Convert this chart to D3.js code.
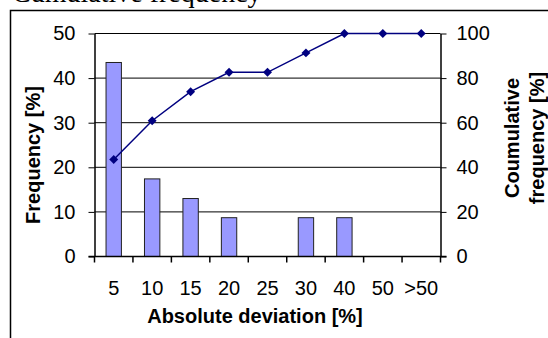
<!DOCTYPE html>
<html>
<head>
<meta charset="utf-8">
<script src="https://cdn.jsdelivr.net/npm/d3@7"></script>
<style>
body { margin: 0; background: #fff; }
svg { display: block; }
text { font-family: Arial, "Liberation Sans", sans-serif; fill: #000; }
</style>
</head>
<body>
<svg id="chart" width="548" height="338"></svg>
<script>
var categories = ["5", "10", "15", "20", "25", "30", "40", "50", ">50"]
var frequency = [43.5, 17.4, 13.0, 8.7, 0, 8.7, 8.7, 0, 0]
var cumulative = [43.5, 60.9, 73.9, 82.6, 82.6, 91.3, 100, 100, 100]
var leftTicks = [0, 10, 20, 30, 40, 50]
var rightTicks = [0, 20, 40, 60, 80, 100]

var svg = d3.select('svg#chart')
var pLeft = 94.5, pRight = 440.5, pTop = 33.5, pBottom = 256.5
var fs = '20px'

// clipped caption above the chart frame
svg.append('text')
	.attr('x', 12).attr('y', 2)
	.style('font-family', '"Liberation Serif", "Times New Roman", serif')
	.style('font-size', '28px')
	.text('Cumulative frequency')

// frame
svg.append('path')
	.attr('d', 'M10.5,338 V10.5 H548')
	.style('fill', 'none').style('stroke', '#000').style('stroke-width', 1.5)

var x = d3.scaleBand().domain(categories).range([pLeft, pRight])
var xBar = d3.scaleBand().domain(categories).range([pLeft, pRight]).paddingInner(0.6).paddingOuter(0.3)
var yL = d3.scaleLinear().domain([0, 50]).range([pBottom, pTop])
var yR = d3.scaleLinear().domain([0, 100]).range([pBottom, pTop])

// gridlines
svg.append('g').selectAll('line')
	.data(leftTicks.filter(function(d){return d > 0}))
	.enter().append('line')
	.attr('x1', pLeft).attr('x2', pRight)
	.attr('y1', function(d){return yL(d)}).attr('y2', function(d){return yL(d)})
	.style('stroke', '#000').style('stroke-width', 1)

// bars
svg.append('g').selectAll('rect')
	.data(frequency)
	.enter().append('rect')
	.attr('x', function(d, i){return xBar(categories[i])})
	.attr('width', xBar.bandwidth())
	.attr('y', function(d){return yL(d)})
	.attr('height', function(d){return pBottom - yL(d)})
	.style('fill', function(d){return d > 0 ? '#9999ff' : 'none'})
	.style('stroke', function(d){return d > 0 ? '#222' : 'none'})
	.style('stroke-width', 1)

// axes
var gl = svg.append('g').attr('transform', 'translate(' + pLeft + ',0)')
	.call(d3.axisLeft(yL).tickValues(leftTicks).tickSize(6).tickPadding(13).tickSizeOuter(0))
var gr = svg.append('g').attr('transform', 'translate(' + pRight + ',0)')
	.call(d3.axisRight(yR).tickValues(rightTicks).tickSize(6).tickPadding(10).tickSizeOuter(0))
;[gl, gr].forEach(function(g){
	g.select('.domain').style('stroke', '#000').style('stroke-width', 1.5)
	g.selectAll('.tick line').style('stroke', '#000').style('stroke-width', 1)
	g.selectAll('.tick text').style('font-size', fs).style('font-family', 'Arial, "Liberation Sans", sans-serif')
})

// x axis line and boundary ticks
svg.append('line')
	.attr('x1', pLeft - 6).attr('x2', pRight + 6).attr('y1', pBottom).attr('y2', pBottom)
	.style('stroke', '#000').style('stroke-width', 1.5)
var bounds = categories.map(function(c){return x(c)}).concat([pRight])
svg.append('g').selectAll('line')
	.data(bounds)
	.enter().append('line')
	.attr('x1', function(d){return d}).attr('x2', function(d){return d})
	.attr('y1', pBottom).attr('y2', pBottom + 6)
	.style('stroke', '#000').style('stroke-width', 1.5)
svg.append('g').selectAll('text')
	.data(categories)
	.enter().append('text')
	.attr('x', function(d){return x(d) + x.bandwidth() / 2})
	.attr('y', 295)
	.attr('text-anchor', 'middle')
	.style('font-size', fs)
	.text(function(d){return d})

// cumulative line
var line = d3.line()
	.x(function(d, i){return x(categories[i]) + x.bandwidth() / 2})
	.y(function(d){return yR(d)})
svg.append('path')
	.attr('d', line(cumulative))
	.style('fill', 'none').style('stroke', '#000080').style('stroke-width', 1.5)
svg.append('g').selectAll('path')
	.data(cumulative)
	.enter().append('path')
	.attr('d', d3.symbol(d3.symbolSquare, 40))
	.attr('transform', function(d, i){
		return 'translate(' + (x(categories[i]) + x.bandwidth() / 2) + ',' + yR(d) + ') rotate(45)'
	})
	.style('fill', '#000080')

// axis titles
var mid = (pTop + pBottom) / 2
svg.append('text')
	.attr('transform', 'translate(40,' + (mid + 10) + ') rotate(-90)')
	.attr('text-anchor', 'middle')
	.style('font-size', fs).style('font-weight', 'bold')
	.text('Frequency [%]')
svg.append('text')
	.attr('transform', 'translate(519,' + (mid - 7) + ') rotate(-90)')
	.attr('text-anchor', 'middle')
	.style('font-size', fs).style('font-weight', 'bold')
	.text('Coumulative')
svg.append('text')
	.attr('transform', 'translate(544,' + (mid - 7) + ') rotate(-90)')
	.attr('text-anchor', 'middle')
	.style('font-size', fs).style('font-weight', 'bold')
	.text('frequency [%]')
svg.append('text')
	.attr('x', 255).attr('y', 323)
	.attr('text-anchor', 'middle')
	.style('font-size', fs).style('font-weight', 'bold')
	.text('Absolute deviation [%]')
</script>
</body>
</html>
